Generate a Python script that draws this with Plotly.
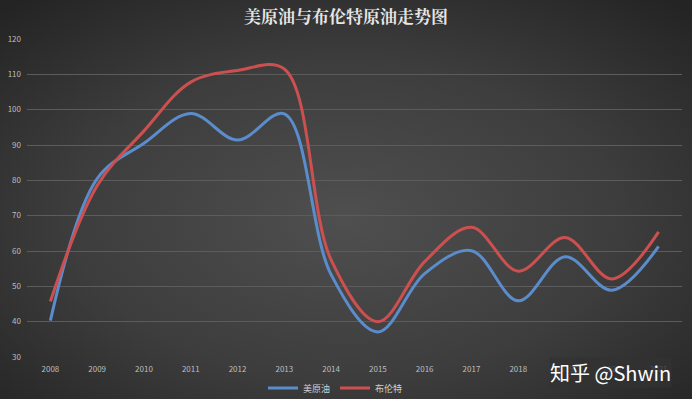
import plotly.graph_objects as go
import urllib.parse

years = ["2008", "2009", "2010", "2011", "2012", "2013", "2014",
         "2015", "2016", "2017", "2018", "2019", "2020", "2021"]
wti = [40.3, 80.5, 90.5, 98.9, 91.4, 98.8, 53.3,
       37.1, 53.6, 60.1, 45.9, 58.4, 48.9, 61.3]
brent = [45.7, 78.5, 94.0, 107.8, 111.1, 111.5, 57.5,
         40.0, 57.0, 66.7, 54.3, 63.8, 52.1, 65.4]
series_names = ["美原油", "布伦特"]
title_text = "美原油与布伦特原油走势图"
watermark = "知乎 @Shwin"
y_ticks = [30, 40, 50, 60, 70, 80, 90, 100, 110, 120]

W, H = 692, 399
L, R, T, B = 27, 10, 39, 42
pw, ph = W - L - R, H - T - B

svg = (
    f'<svg xmlns="http://www.w3.org/2000/svg" width="{W}" height="{H}" viewBox="0 0 {W} {H}" preserveAspectRatio="none">'
    '<defs><radialGradient id="g" cx="50%" cy="55%" r="72%">'
    '<stop offset="0%" stop-color="#4f4f4f"/>'
    '<stop offset="55%" stop-color="#3d3d3d"/>'
    '<stop offset="100%" stop-color="#242424"/>'
    '</radialGradient></defs>'
    f'<rect width="{W}" height="{H}" fill="url(#g)"/></svg>'
)
bg_src = "data:image/svg+xml;charset=utf-8," + urllib.parse.quote(svg)

fig = go.Figure()
fig.add_trace(go.Scatter(
    x=years, y=wti, name=series_names[0], mode="lines",
    line=dict(color="#5b8ccb", width=3, shape="spline", smoothing=1.0),
))
fig.add_trace(go.Scatter(
    x=years, y=brent, name=series_names[1], mode="lines",
    line=dict(color="#cc5050", width=3, shape="spline", smoothing=1.0),
))

fig.update_layout(
    width=W, height=H,
    margin=dict(l=L, r=R, t=T, b=B, autoexpand=False),
    paper_bgcolor="#262626",
    plot_bgcolor="rgba(0,0,0,0)",
    font=dict(family="Noto Sans CJK SC, Liberation Sans, sans-serif", color="#bdbdbd", size=8),
    title=dict(
        text=f"<b>{title_text}</b>", x=0.5, xref="container", xanchor="center",
        y=1 - 17 / H, yref="container", yanchor="middle",
        font=dict(family="Noto Serif CJK SC, Noto Sans CJK SC, serif", size=17, color="#e6e6e6"),
    ),
    xaxis=dict(
        type="category", range=[-0.5, len(years) - 0.5],
        showgrid=False, zeroline=False, showline=False, ticks="",
        ticklabelstandoff=6,
        tickfont=dict(size=8, color="#bdbdbd"),
    ),
    yaxis=dict(
        range=[30, 120], tickvals=y_ticks,
        showgrid=True, gridcolor="#5c5c5c", gridwidth=1,
        zeroline=False, showline=False, ticks="",
        ticklabelstandoff=5,
        tickfont=dict(size=8, color="#bdbdbd"),
    ),
    legend=dict(
        orientation="h", x=(335.5 - L) / pw, xanchor="center",
        y=-(388 - (T + ph)) / ph, yanchor="middle",
        font=dict(size=9, color="#cfcfcf"), bgcolor="rgba(0,0,0,0)",
        itemwidth=30, tracegroupgap=0,
    ),
    showlegend=True,
    images=[dict(
        source=bg_src, xref="paper", yref="paper",
        x=-L / pw, y=1 + T / ph, sizex=W / pw, sizey=H / ph,
        xanchor="left", yanchor="top", sizing="stretch", layer="below",
    )],
    annotations=[dict(
        text=watermark, xref="paper", yref="paper",
        x=(610 - L) / pw, y=-(372 - (T + ph)) / ph,
        xanchor="center", yanchor="middle", showarrow=False,
        font=dict(family="Noto Sans CJK SC, sans-serif", size=20, color="#ffffff"),
        bgcolor="rgba(50,50,50,0.8)", borderpad=0,
    )],
)

fig.write_html(
    "out.html",
    config={"displayModeBar": False},
    post_script=(
        "document.body.style.margin='0';"
        "document.body.style.overflow='hidden';"
        "document.documentElement.style.overflow='hidden';"
    ),
)
